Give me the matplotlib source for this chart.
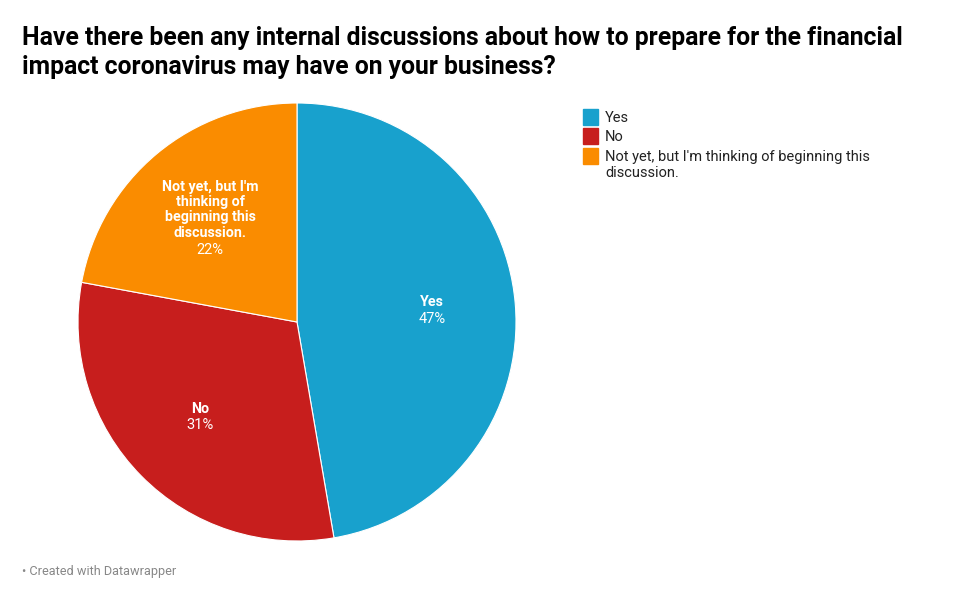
import matplotlib.pyplot as plt
from matplotlib.patches import Rectangle
import numpy as np

plt.rcParams['font.family'] = ['Roboto', 'DejaVu Sans']

labels = ["Yes", "No", "Not yet, but I'm thinking of beginning this discussion."]
inner_labels = ["Yes", "No", "Not yet, but I'm\nthinking of\nbeginning this\ndiscussion."]
values = [47.3, 30.6, 22.1]
colors = ['#18a1cd', '#c71e1d', '#fa8c00']
legend_labels = ["Yes", "No", "Not yet, but I'm thinking of beginning this\ndiscussion."]

W, H = 960, 602
fig = plt.figure(figsize=(W / 100, H / 100), dpi=100)

# pie axes: center (297, 322), radius 219 px
cx, cy, r = 297, 322, 219
ax = fig.add_axes([(cx - r) / W, (H - cy - r) / H, 2 * r / W, 2 * r / H])
wedges, _ = ax.pie(values, colors=colors, startangle=90, counterclock=False,
                   wedgeprops=dict(edgecolor='white', linewidth=0.8))
ax.set_xlim(-1, 1)
ax.set_ylim(-1, 1)
ax.set_aspect('equal')
ax.axis('off')

lh = 11.6  # line height in points
for w, name, v in zip(wedges, inner_labels, values):
    ang = np.deg2rad((w.theta1 + w.theta2) / 2)
    x, y = 0.62 * np.cos(ang), 0.62 * np.sin(ang)
    n = name.count('\n') + 1
    ax.annotate(name, (x, y), xytext=(0, 0.5 * lh), textcoords='offset points',
                ha='center', va='center', color='white', fontsize=10.3,
                fontweight='bold', linespacing=1.12)
    ax.annotate(f"{round(v)}%", (x, y), xytext=(0, -n / 2 * lh), textcoords='offset points',
                ha='center', va='center', color='white', fontsize=10.5)

# title
fig.text(22 / W, 1 - 26 / H,
         "Have there been any internal discussions about how to prepare for the financial\n"
         "impact coronavirus may have on your business?",
         ha='left', va='top', fontsize=17.8, fontweight='bold', color='#000000',
         linespacing=1.25)

# legend
rows = [117, 136, 156]
for yy, lab, c in zip(rows, legend_labels, colors):
    fig.patches.append(Rectangle((583 / W, 1 - (yy + 8) / H), 15 / W, 16 / H,
                                 transform=fig.transFigure, color=c))
    fig.text(605 / W, 1 - (yy - 6) / H, lab, ha='left', va='top', fontsize=10.5,
             color='#222222', linespacing=1.15)

# footer
fig.text(22 / W, 1 - 572 / H, "• Created with Datawrapper", ha='left', va='center',
         fontsize=9.2, color='#888888')

fig.savefig('out.png', dpi=100)
